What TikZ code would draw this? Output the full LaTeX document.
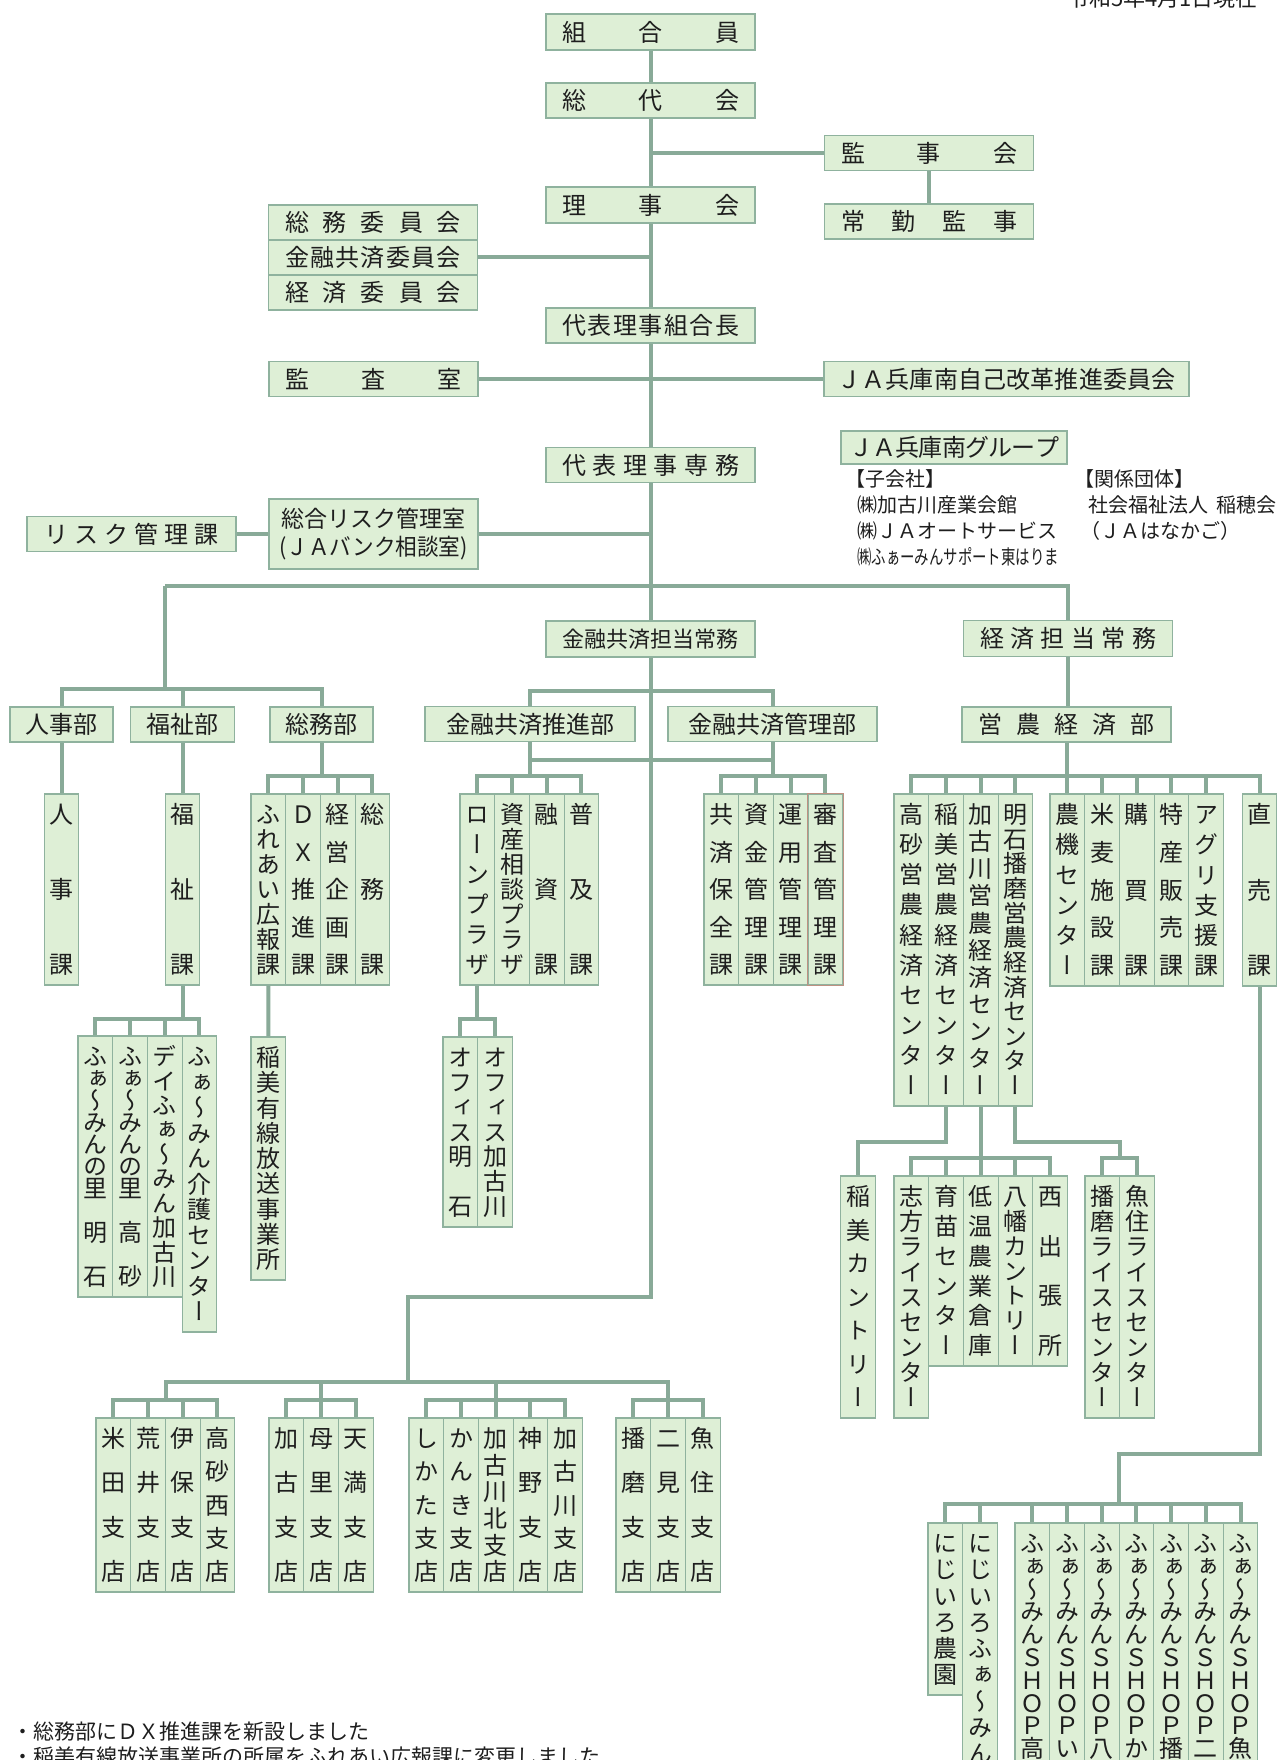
\documentclass[tikz,border=0pt]{standalone}
\usepackage{fontspec}
\usepackage{graphicx}
\newfontfamily\jp{Noto Sans CJK JP}
\newfontfamily\jptate[RawFeature=+vert]{Noto Sans CJK JP}
\definecolor{boxfill}{RGB}{222,239,214}
\definecolor{boxline}{RGB}{143,178,158}
\definecolor{lineg}{RGB}{137,170,152}
\definecolor{ink}{RGB}{30,30,30}
\definecolor{redline}{RGB}{190,145,130}

\makeatletter
\newcommand\yoko[2]{\hbox to #1{\expandafter\yoko@a#2\@nil}}
\def\yoko@a#1{#1\yoko@b}
\def\yoko@b#1{\ifx\@nil#1\else\hss#1\expandafter\yoko@b\fi}
\newcommand\tate[2]{\vbox to \dimexpr#1-20pt\relax{\offinterlineskip\expandafter\tate@a#2\@nil}}
\def\tate@a#1{\tate@slot{#1}\tate@b}
\def\tate@b#1{\ifx\@nil#1\else\vss\tate@slot{#1}\expandafter\tate@b\fi}
\def\tate@slot#1{\hbox to 1em{\hss\vrule height .88em depth .12em width 0pt\relax #1\hss}}
\makeatother

\tikzset{
    conn/.style={draw=lineg, line width=4pt},
    orgbox/.style={draw=boxline, fill=boxfill, line width=1.1pt, inner sep=0pt, text=ink,
        font=\jp\fontsize{24}{28}\selectfont},
    yokobox/.style={orgbox, minimum width=209pt, minimum height=35pt},
    tatebox/.style={orgbox, minimum width=34.7pt, font=\jptate\fontsize{24}{24}\selectfont},
    memo/.style={inner sep=0pt, anchor=west, text=ink, font=\jp\fontsize{20}{20}\selectfont}
}

\begin{document}
\begin{tikzpicture}[x=1pt, y=-1pt]
\fill[white] (0,0) rectangle (1279,1760);
\useasboundingbox (0,0) rectangle (1279,1760);
\clip (0,0) rectangle (1279,1760);

\node[inner sep=0pt, anchor=base east, text=ink, font=\jp\fontsize{22}{22}\selectfont]
    (date) at (1258,6.5) {令和5年4月1日現在};

% top column
\node[yokobox, minimum height=36pt] (kumiai) at (650.5,32) {\yoko{177pt}{組合員}};
\node[yokobox] (soudai) at (650.5,100.5) {\yoko{177pt}{総代会}};
\node[yokobox, minimum height=36pt] (rijikai) at (650.5,205) {\yoko{177pt}{理事会}};
\node[yokobox] (kumiaicho) at (650.5,325.5) {\yoko{177pt}{代表理事組合長}};
\node[yokobox] (senmu) at (650.5,465) {\yoko{177pt}{代表理事専務}};
\node[yokobox, minimum height=36pt] (kinyujomu) at (650.5,639) {\fontsize{22}{22}\selectfont\yoko{177pt}{金融共済担当常務}};

\node[yokobox] (kanjikai) at (929,153) {\yoko{176pt}{監事会}};
\node[yokobox] (jokin) at (929,221.5) {\yoko{176pt}{常勤監事}};

\node[yokobox] (somuiin) at (373,222.5) {\yoko{176pt}{総務委員会}};
\node[yokobox] (kinyuiin) at (373,257.5) {\yoko{176pt}{金融共済委員会}};
\node[yokobox] (keizaiiin) at (373,292.5) {\yoko{176pt}{経済委員会}};
\node[yokobox] (kansa) at (373.5,379) {\yoko{176pt}{監査室}};
\node[yokobox, minimum width=365pt] (kaikaku) at (1006.5,379) {\yoko{338pt}{ＪＡ兵庫南自己改革推進委員会}};

\node[
    yokobox,
    minimum height=70pt,
    align=center,
    font=\jp\fontsize{23}{28}\selectfont
] (risk) at (373.5,534) {総合リスク管理室\\\scalebox{0.94}[1]{(ＪＡバンク相談室)}};
\node[yokobox] (riskka) at (131.5,534) {\yoko{174pt}{リスク管理課}};

% group companies
\node[orgbox, minimum width=226pt, minimum height=33pt] (group) at (954,447.5) {\yoko{210pt}{ＪＡ兵庫南グループ}};
\node[memo] (kogaisha) at (845,479) {【子会社】};
\node[memo] (kaikan) at (857,505) {㈱加古川産業会館};
\node[memo] (auto) at (857,531) {㈱ＪＡオートサービス};
\node[memo] (support) at (857,557) {\scalebox{0.72}[1]{㈱ふぁーみんサポート東はりま}};
\node[memo] (kankei) at (1074,479) {【関係団体】};
\node[memo] (inaho) at (1088,505) {社会福祉法人\hspace{8pt}稲穂会};
\node[memo] (hanakago) at (1080,531) {（ＪＡはなかご）};

% departments
\node[yokobox, minimum height=36pt] (keizaijomu) at (1068,638.5) {\yoko{176pt}{経済担当常務}};
\node[yokobox, minimum width=103pt] (jinjibu) at (61.5,724.5) {人事部};
\node[yokobox, minimum width=104pt] (fukushibu) at (182.5,724.5) {福祉部};
\node[yokobox, minimum width=103pt] (somubu) at (321.5,724.5) {総務部};
\node[yokobox, minimum width=210pt] (suishinbu) at (530,724) {金融共済推進部};
\node[yokobox] (kanribu) at (772.5,724) {金融共済管理部};
\node[yokobox] (einobu) at (1066.5,724.5) {\yoko{176pt}{営農経済部}};

% sections
\node[tatebox, minimum height=191pt] (jinjika) at (61.5,889.5) {\tate{191pt}{人事課}};
\node[tatebox, minimum height=191pt] (fukushika) at (182.5,889.5) {\tate{191pt}{福祉課}};
\foreach \txt [count=\i] in {ふれあい広報課,ＤＸ推進課,経営企画課,総務課}
    \node[tatebox, minimum height=191pt] (somu\i) at ({251+34.7*(\i-0.5)},889.5) {\tate{191pt}{\txt}};
\foreach \txt [count=\i] in {ローンプラザ,資産相談プラザ,融資課,普及課}
    \node[tatebox, minimum height=191pt] (suishin\i) at ({460+34.7*(\i-0.5)},889.5) {\tate{191pt}{\txt}};
\foreach \txt [count=\i] in {共済保全課,資金管理課,運用管理課,審査管理課}
    \node[tatebox, minimum height=191pt] (kanri\i) at ({704+34.7*(\i-0.5)},889.5) {\tate{191pt}{\txt}};
\draw[redline, line width=1.1pt] (kanri4.north west) rectangle (kanri4.south east);
\foreach \txt [count=\i] in {高砂営農経済センター,稲美営農経済センター,加古川営農経済センター,明石播磨営農経済センター}
    \node[tatebox, minimum height=312pt] (center\i) at ({894+34.7*(\i-0.5)},950) {\tate{312pt}{\txt}};
\foreach \txt [count=\i] in {農機センター,米麦施設課,購買課,特産販売課,アグリ支援課}
    \node[tatebox, minimum height=192pt] (eino\i) at ({1050+34.7*(\i-0.5)},890) {\tate{192pt}{\txt}};
\node[tatebox, minimum height=192pt] (chokubai) at (1259.5,890) {\tate{192pt}{直売課}};

\foreach \txt/\h [count=\i] in {ふぁ〜みんの里　明　石/261,ふぁ〜みんの里　高　砂/261,デイふぁ〜みん加古川/261,ふぁ〜みん介護センター/296}
    \node[tatebox, minimum height=\h pt] (fukushi\i) at ({78+34.7*(\i-0.5)},{1036+\h/2}) {\tate{\h pt}{\txt}};
\node[tatebox, minimum height=243pt] (inamiyusen) at (268.35,1158.5) {\tate{243pt}{稲美有線放送事業所}};
\foreach \txt [count=\i] in {オフィス明　石,オフィス加古川}
    \node[tatebox, minimum height=190pt] (office\i) at ({443+34.7*(\i-0.5)},1132) {\tate{190pt}{\txt}};

\node[tatebox, minimum height=242pt] (inamicountry) at (858,1297) {\tate{242pt}{稲美カントリー}};
\foreach \txt/\h [count=\i] in {志方ライスセンター/242,育苗センター/190,低温農業倉庫/190,八幡カントリー/190,西出張所/190}
    \node[tatebox, minimum height=\h pt] (kako\i) at ({894+34.7*(\i-0.5)},{1176+\h/2}) {\tate{\h pt}{\txt}};
\foreach \txt [count=\i] in {播磨ライスセンター,魚住ライスセンター}
    \node[tatebox, minimum height=242pt] (rice\i) at ({1085+34.7*(\i-0.5)},1297) {\tate{242pt}{\txt}};

% branches
\foreach \txt [count=\i] in {米田支店,荒井支店,伊保支店,高砂西支店}
    \node[tatebox, minimum height=174pt] (shitena\i) at ({96+34.7*(\i-0.5)},1505) {\tate{174pt}{\txt}};
\foreach \txt [count=\i] in {加古支店,母里支店,天満支店}
    \node[tatebox, minimum height=174pt] (shitenb\i) at ({269+34.7*(\i-0.5)},1505) {\tate{174pt}{\txt}};
\foreach \txt [count=\i] in {しかた支店,かんき支店,加古川北支店,神野支店,加古川支店}
    \node[tatebox, minimum height=174pt] (shitenc\i) at ({409+34.7*(\i-0.5)},1505) {\tate{174pt}{\txt}};
\foreach \txt [count=\i] in {播磨支店,二見支店,魚住支店}
    \node[tatebox, minimum height=174pt] (shitend\i) at ({616+34.7*(\i-0.5)},1505) {\tate{174pt}{\txt}};

% shops
\node[tatebox, minimum height=172pt] (niji1) at (945.35,1609) {\tate{172pt}{にじいろ農園}};
\node[tatebox, minimum height=251pt] (niji2) at (980.05,1648.5) {\tate{251pt}{にじいろふぁ〜みん}};
\foreach \txt [count=\i] in {高,い,八,か,播,二,魚}
    \node[tatebox, minimum height=246pt] (shop\i) at ({1015+34.7*(\i-0.5)},1646) {\tate{246pt}{ふぁ〜みんＳＨＯＰ\txt}};

% connectors
\draw[conn] (kumiai) -- (soudai);
\draw[conn] (soudai) -- (rijikai);
\draw[conn] (rijikai) -- (kumiaicho);
\draw[conn] (kumiaicho) -- (senmu);
\draw[conn] (senmu) -- (kinyujomu);
\draw[conn] (kanjikai.west) -- (kanjikai.west -| soudai.south);
\draw[conn] (kanjikai) -- (jokin);
\draw[conn] (kinyuiin.east) -- (kinyuiin.east -| rijikai.south);
\draw[conn] (kansa) -- (kaikaku);
\draw[conn] (riskka) -- (risk);
\draw[conn] (risk.east) -- (risk.east -| senmu.south);

\coordinate (busL) at (165,586);
\coordinate (kanbubus) at (165,689);
\coordinate (kinyubus) at (650.5,691);
\draw[conn] (busL) -| (keizaijomu.north);
\draw[conn] (busL) -- (kanbubus);
\draw[conn] (jinjibu.north) |- (kanbubus) -| (somubu.north);
\draw[conn] (fukushibu.north) -- (fukushibu.north |- kanbubus);
\draw[conn] (suishinbu.north) |- (kinyubus) -| (kanribu.north);
\draw[conn] (suishinbu.south) -- ++(0,18) -| (kanribu.south);
\draw[conn] (keizaijomu.south) -- (keizaijomu.south |- einobu.north);

\draw[conn] (jinjibu) -- (jinjika);
\draw[conn] (fukushibu) -- (fukushika);
\draw[conn] (somubu.south) -- ([yshift=17pt]somubu.south |- somu1.north);
\draw[conn] (somu1.north) -- ++(0,-17) -| (somu4.north);
\foreach \i in {2,3} \draw[conn] (somu\i.north) -- ++(0,-17);
\draw[conn] (suishinbu.south) -- ([yshift=17pt]suishinbu.south |- suishin1.north);
\draw[conn] (suishin1.north) -- ++(0,-17) -| (suishin4.north);
\foreach \i in {2,3} \draw[conn] (suishin\i.north) -- ++(0,-17);
\draw[conn] (kanribu.south) -- ([yshift=17pt]kanribu.south |- kanri1.north);
\draw[conn] (kanri1.north) -- ++(0,-17) -| (kanri4.north);
\foreach \i in {2,3} \draw[conn] (kanri\i.north) -- ++(0,-17);
\draw[conn] (einobu.south) -- (einobu.south |- eino1.north);
\draw[conn] (center1.north) -- ++(0,-17) -| (chokubai.north);
\foreach \n in {center2,center3,center4,eino2,eino3,eino4,eino5} \draw[conn] (\n.north) -- ++(0,-17);

\draw[conn] (fukushika.south) -- ([yshift=16pt]fukushika.south |- fukushi1.north);
\draw[conn] (fukushi1.north) -- ++(0,-16) -| (fukushi4.north);
\foreach \i in {2,3} \draw[conn] (fukushi\i.north) -- ++(0,-16);
\draw[conn] (somu1) -- (inamiyusen);
\draw[conn] (suishin1.south) -- ([yshift=17pt]suishin1.south |- office1.north);
\draw[conn] (office1.north) -- ++(0,-17) -| (office2.north);

\draw[conn] (center2.south) -- ++(0,35) -| (inamicountry.north);
\draw[conn] (center3.south) -- ([yshift=17pt]center3.south |- kako1.north);
\draw[conn] (kako1.north) -- ++(0,-17) -| (kako5.north);
\foreach \i in {2,3,4} \draw[conn] (kako\i.north) -- ++(0,-17);
\draw[conn] (center4.south) -- ++(0,35) -| ([yshift=17pt]rice1.north east);
\draw[conn] (rice1.north) -- ++(0,-17) -| (rice2.north);

\coordinate (trunkbend) at (408,1297);
\coordinate (shitenbus) at (408,1383);
\draw[conn] (kinyujomu.south) |- (trunkbend) -- (shitenbus);
\draw[conn] ([yshift=17pt]shitena2.north east) -- ++(0,-18) -| ([yshift=17pt]shitend2.north);
\draw[conn] (shitena1.north) -- ++(0,-17) -| (shitena4.north);
\foreach \i in {2,3} \draw[conn] (shitena\i.north) -- ++(0,-17);
\draw[conn] (shitenb1.north) -- ++(0,-17) -| (shitenb3.north);
\draw[conn] (shitenb2.north) -- ++(0,-35);
\draw[conn] (shitenc1.north) -- ++(0,-17) -| (shitenc5.north);
\foreach \i in {2,4} \draw[conn] (shitenc\i.north) -- ++(0,-17);
\draw[conn] (shitenc3.north) -- ++(0,-35);
\draw[conn] (shitend1.north) -- ++(0,-17) -| (shitend3.north);
\draw[conn] (shitend2.north) -- ++(0,-17);

\coordinate (shopbus) at (1119,1505);
\draw[conn] (chokubai.south) -- ++(0,467) -| (shopbus);
\draw[conn] (niji1.north) -- ++(0,-18) -| (shop7.north);
\foreach \n in {niji2,shop1,shop2,shop3,shop4,shop5,shop6} \draw[conn] (\n.north) -- ++(0,-18);

% notes
\node[memo, font=\jp\fontsize{21}{21}\selectfont] (memo1) at (12,1732) {・総務部にＤＸ推進課を新設しました};
\node[memo, font=\jp\fontsize{21}{21}\selectfont] (memo2) at (12,1757) {・稲美有線放送事業所の所属をふれあい広報課に変更しました};
\end{tikzpicture}
\end{document}
